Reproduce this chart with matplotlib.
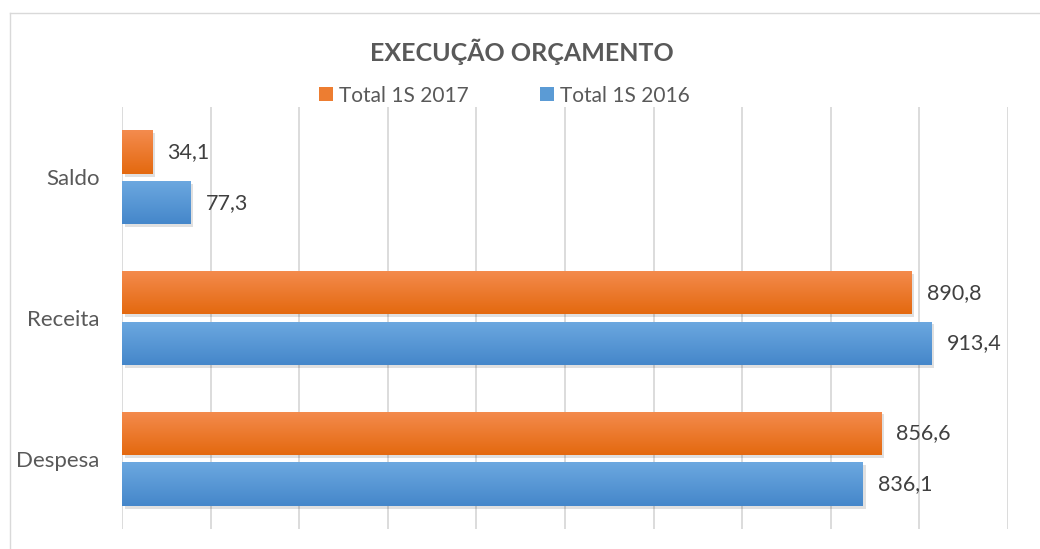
import numpy as np
import matplotlib
matplotlib.use("Agg")
import matplotlib.pyplot as plt
from matplotlib.patches import Rectangle
from matplotlib.lines import Line2D
from matplotlib.colors import LinearSegmentedColormap

plt.rcParams["font.family"] = ["Lato", "DejaVu Sans"]

categories = ["Despesa", "Receita", "Saldo"]
series_names = ["Total 1S 2017", "Total 1S 2016"]
values_2017 = [856.6, 890.8, 34.1]
values_2016 = [836.1, 913.4, 77.3]
labels_2017 = ["856,6", "890,8", "34,1"]
labels_2016 = ["836,1", "913,4", "77,3"]

orange = "#ED7D31"
blue = "#5B9BD5"
grad_orange = LinearSegmentedColormap.from_list("go", ["#E4690F", "#F48B4E"])
grad_blue = LinearSegmentedColormap.from_list("gb", ["#4587CA", "#6CA8E0"])

fig = plt.figure(figsize=(10.4, 5.49), dpi=100)
ax = fig.add_axes([0.1173, 0.0364, 0.852, 0.7687])

y = np.arange(len(categories))
h = 0.31
off = 0.18

bars_o = ax.barh(y + off, values_2017, height=h, color=orange, label=series_names[0], zorder=3)
bars_b = ax.barh(y - off, values_2016, height=h, color=blue, label=series_names[1], zorder=3)

# gradient fill + soft shadow like the office chart
grad = np.linspace(0, 1, 64).reshape(-1, 1)
for bars, cmap in [(bars_o, grad_orange), (bars_b, grad_blue)]:
    for b in bars:
        x0, y0 = b.get_x(), b.get_y()
        w, hh = b.get_width(), b.get_height()
        sh = Rectangle((x0 + 3, y0 - 0.02), w, hh, color="#000000", alpha=0.12,
                       lw=0, zorder=2)
        ax.add_patch(sh)
        im = ax.imshow(grad, extent=[x0, x0 + w, y0, y0 + hh], origin="lower",
                       cmap=cmap, aspect="auto", zorder=4)
        im.set_clip_path(b)

for bars, labels in [(bars_o, labels_2017), (bars_b, labels_2016)]:
    for b, t in zip(bars, labels):
        ax.annotate(t, (b.get_width(), b.get_y() + b.get_height() / 2),
                    xytext=(11, 0), textcoords="offset points",
                    va="center", ha="left", fontsize=15.5, color="#404040")

ax.set_xlim(0, 1000)
ax.set_ylim(-0.5, 2.5)
ax.set_xticks(np.arange(0, 1001, 100))
ax.set_xticklabels([])
ax.set_yticks(y)
ax.set_yticklabels(categories, fontsize=16, color="#595959")
ax.tick_params(axis="both", length=0, pad=16)
ax.grid(axis="x", color="#D9D9D9", lw=1.3, zorder=0)
for s in ax.spines.values():
    s.set_visible(False)

fig.text(0.502, 0.905, "EXECUÇÃO ORÇAMENTO", ha="center", va="center",
         fontsize=18, fontweight="bold", color="#595959")

leg = fig.legend(handles=[bars_o, bars_b], labels=series_names, loc="center",
                 bbox_to_anchor=(0.485, 0.826), ncol=2, frameon=False,
                 fontsize=15, handlelength=0.67, handleheight=0.67,
                 handletextpad=0.3, columnspacing=3.4, labelcolor="#595959")

# chart area border (only left and top edges are inside the image)
fig.add_artist(Line2D([10 / 1040, 10 / 1040], [0, 1 - 13 / 549],
                      transform=fig.transFigure, color="#D9D9D9", lw=1))
fig.add_artist(Line2D([10 / 1040, 1], [1 - 13 / 549, 1 - 13 / 549],
                      transform=fig.transFigure, color="#D9D9D9", lw=1))

fig.savefig("out.png", dpi=100)
